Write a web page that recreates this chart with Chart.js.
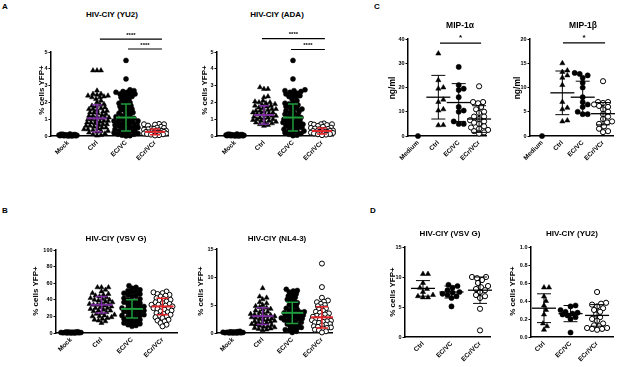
<!DOCTYPE html>
<html>
<head>
<meta charset="utf-8">
<script src="https://cdn.jsdelivr.net/npm/chart.js@4.4.1/dist/chart.umd.min.js"></script>
<style>
  html, body { margin:0; padding:0; background:#fff; width:617px; height:367px; overflow:hidden; position:relative; }
  .box { position:absolute; }
  .txt { position:absolute; font-family:"Liberation Sans", Arial, sans-serif; font-weight:bold; color:#000; white-space:nowrap; }
</style>
</head>
<body>
<script>
// ── Data ─────────────────────────────────────────────────────
const catsAB = ['Mock', 'Ctrl', 'EC/VC', 'ECr/VCr'];
const catsC  = ['Medium', 'Ctrl', 'EC/VC', 'ECr/VCr'];
const catsD  = ['Ctrl', 'EC/VC', 'ECr/VCr'];

const ticksA  = [0, 1, 2, 3, 4, 5];
const ticksB1 = [0, 20, 40, 60, 80, 100];
const ticksB2 = [0, 5, 10, 15];
const ticksC1 = [0, 10, 20, 30, 40];
const ticksC2 = [0, 5, 10, 15, 20];
const ticksD1 = [0, 5, 10, 15];
const ticksD2 = [0, 0.2, 0.4, 0.6, 0.8, 1.0];

// A — HIV-CIY (YU2)
const yu2Mock   = [0,0,0.01,0.01,0.02,0.02,0.03,0.03,0.04,0.04,0.05,0.05,0.06,0.06,0.07,0.08,0.09,0.1,0.11,0.12];
const yu2Ctrl   = [3.9,3.9,3.9,2.7,2.5,2.5,2.45,2.4,2.4,2.35,2.3,2.3,2.2,2.1,2.0,1.9,1.85,1.8,1.75,1.7,1.65,1.6,1.6,1.55,1.5,1.45,1.4,1.4,1.35,1.3,1.25,1.2,1.2,1.15,1.1,1.1,1.05,1.0,1.0,0.95,0.9,0.9,0.85,0.8,0.8,0.75,0.7,0.7,0.65,0.6,0.6,0.55,0.5,0.5,0.45,0.4,0.4,0.35,0.3,0.3,0.25,0.2,0.15,0.1,0.05,0.02];
const yu2EcVc   = [4.5,3.4,2.75,2.7,2.65,2.6,2.6,2.55,2.5,2.5,2.45,2.4,2.35,2.3,2.25,2.2,2.1,2.05,2.0,1.95,1.9,1.85,1.8,1.75,1.7,1.65,1.6,1.55,1.5,1.45,1.4,1.35,1.3,1.25,1.2,1.15,1.1,1.05,1.0,1.0,0.95,0.9,0.9,0.85,0.8,0.8,0.75,0.7,0.7,0.65,0.6,0.6,0.55,0.5,0.5,0.45,0.4,0.4,0.35,0.3,0.3,0.25,0.2,0.2,0.15,0.1,0.1,0.05,0.02,0];
const yu2EcrVcr = [0.72,0.7,0.7,0.68,0.62,0.55,0.5,0.48,0.45,0.42,0.4,0.38,0.35,0.32,0.3,0.3,0.28,0.25,0.25,0.22,0.2,0.2,0.18,0.15,0.15,0.12,0.1,0.08,0.05,0.03];
const yu2Mean = [null, 1.05, 1.1, 0.25];
const yu2Sd   = [null, 0.8, 0.8, 0.17];
const yu2Sig  = [[1.1, 3.24, 5.77, '****'], [2.07, 3.24, 5.18, '****']];

// A — HIV-CIY (ADA)
const adaMock   = [0,0,0.01,0.01,0.02,0.02,0.03,0.03,0.04,0.04,0.05,0.05,0.06,0.06,0.07,0.08,0.09,0.1,0.11,0.12];
const adaCtrl   = [2.9,2.8,2.8,2.35,2.3,2.1,2.05,2.0,2.0,1.95,1.9,1.85,1.8,1.8,1.75,1.7,1.65,1.6,1.6,1.55,1.5,1.5,1.45,1.4,1.4,1.35,1.3,1.3,1.25,1.2,1.2,1.15,1.1,1.1,1.05,1.0,1.0,0.95,0.9,0.9,0.85,0.8,0.8,0.75,0.7,0.65,0.6];
const adaEcVc   = [4.5,3.4,2.75,2.7,2.7,2.65,2.6,2.55,2.5,2.45,2.4,2.35,2.3,2.2,2.1,2.0,1.95,1.9,1.85,1.8,1.75,1.7,1.65,1.6,1.55,1.5,1.45,1.4,1.35,1.3,1.25,1.2,1.15,1.1,1.05,1.0,1.0,0.95,0.9,0.85,0.8,0.8,0.75,0.7,0.7,0.65,0.6,0.55,0.5,0.5,0.45,0.4,0.35,0.3,0.3,0.25,0.2,0.15,0.1,0.05,0.02];
const adaEcrVcr = [0.75,0.72,0.7,0.7,0.68,0.65,0.6,0.55,0.5,0.48,0.45,0.42,0.4,0.38,0.35,0.33,0.3,0.3,0.28,0.25,0.25,0.22,0.2,0.18,0.15,0.12,0.1,0.08,0.05];
const adaMean = [null, 1.25, 1.1, 0.3];
const adaSd   = [null, 0.55, 0.8, 0.18];
const adaSig  = [[0.93, 3.1, 5.8, '****'], [1.93, 3.1, 5.15, '****']];

// B — HIV-CIY (VSV G)
const vsvMock   = [0,0,0.1,0.2,0.2,0.3,0.4,0.5,0.5,0.6,0.7,0.8,0.9,1.0,1.1,1.2,1.3,1.5];
const vsvCtrl   = [55,55,55,52,50,48,47,46,45,44,43,42,41,40,40,39,38,37,36,35,35,34,34,33,32,31,30,30,29,28,27,27,26,25,24,23,22,21,20,20,19,18,17,16,15,14,12];
const vsvEcVc   = [57,55,54,52,51,50,49,48,47,46,45,44,42,41,40,39,38,37,36,35,34,33,32,31,30,30,29,28,27,26,26,25,24,23,22,21,21,20,19,18,17,16,15,14,13,12,11,10,9,8];
const vsvEcrVcr = [50,49,48,47,46,45,44,42,41,40,39,38,37,36,35,34,34,33,32,31,30,30,29,28,27,26,25,24,23,22,21,20,19,18,16,15,14,12,10,8];
const vsvMean = [null, 34, 29, 32];
const vsvSd   = [null, 10, 11, 10];

// B — HIV-CIY (NL4-3)
const nl43Mock   = [0,0,0.02,0.03,0.04,0.05,0.06,0.08,0.1,0.12,0.14,0.16,0.18,0.2,0.22,0.25,0.3];
const nl43Ctrl   = [8.0,6.5,6.3,6.0,5.5,5.3,5.0,4.8,4.6,4.5,4.3,4.2,4.0,3.8,3.7,3.5,3.4,3.3,3.2,3.1,3.0,3.0,2.9,2.8,2.7,2.6,2.5,2.4,2.3,2.2,2.1,2.0,1.9,1.8,1.7,1.6,1.5,1.4,1.3,1.2,1.1,1.0,0.9,0.8,0.7,0.6,0.5];
const nl43EcVc   = [7.8,7.6,7.5,7.3,7.0,6.8,6.6,6.4,6.2,6.0,5.8,5.6,5.4,5.2,5.0,4.8,4.6,4.4,4.2,4.0,3.9,3.8,3.7,3.6,3.5,3.4,3.3,3.2,3.1,3.0,2.9,2.8,2.7,2.6,2.5,2.4,2.3,2.2,2.0,1.9,1.8,1.6,1.5,1.4,1.2,1.0,0.9,0.8,0.6,0.5,0.3,0.1];
const nl43EcrVcr = [12.4,8.2,6.3,5.8,5.6,5.5,5.2,5.0,4.8,4.6,4.4,4.2,4.0,3.8,3.6,3.5,3.3,3.1,3.0,2.9,2.8,2.6,2.5,2.4,2.3,2.2,2.1,2.0,1.9,1.8,1.6,1.5,1.4,1.2,1.1,1.0,0.9,0.8,0.6,0.5,0.3,0.1];
const nl43Mean = [null, 3.0, 3.6, 2.8];
const nl43Sd   = [null, 1.5, 1.9, 1.9];

// C — MIP-1α / MIP-1β (ng/ml)
const mipaMedium = [0];
const mipaCtrl   = [34, 23, 20, 19.5, 15, 14, 11, 10.5, 4.5, 4.4];
const mipaEcVc   = [28.5, 21, 19.5, 19, 16, 12, 10.5, 10, 6, 5, 5];
const mipaEcrVcr = [20.5, 14, 14, 13.5, 12, 11, 10, 9.5, 8, 8, 7, 6.5, 6, 5.5, 5, 4, 3.5, 3, 2.5, 2, 1.5, 1];
const mipaMean = [null, 16, 13.8, 7];
const mipaSd   = [null, 9, 7.8, 5.5];
const mipaSig  = [[1.08, 3.1, 38.3, '*']];

const mipbMedium = [0];
const mipbCtrl   = [15, 13.5, 13.2, 12.5, 12, 10.5, 7, 5.8, 5.5, 3, 3.2];
const mipbEcVc   = [13, 12.8, 12.5, 12, 11, 10, 8, 7, 6.5, 6, 5, 4.5, 4.5];
const mipbEcrVcr = [11.3, 7, 7, 6.8, 6.5, 6.2, 6, 5.5, 5, 4.5, 4, 3.5, 3, 2.8, 2.5, 2, 1.5, 1, 0.8];
const mipbMean = [null, 8.9, 8, 4.6];
const mipbSd   = [null, 4.5, 3.3, 2.3];
const mipbSig  = [[1.03, 3.1, 19.2, '*']];

// D — HIV-CIY (VSV G) / (YU2)
const dVsvCtrl   = [10.5, 10.5, 9, 8.2, 8, 7.5, 7, 6.8, 6.6, 6.6];
const dVsvEcVc   = [8.7, 8.5, 8.2, 7.8, 7.5, 7.4, 7.2, 7, 6.8, 6.5, 5.1];
const dVsvEcrVcr = [10, 10, 9.8, 9.5, 9, 8.5, 8.3, 8, 7.8, 7.5, 7, 6.8, 6.5, 4.7, 1.1];
const dVsvMean = [8.1, 7.5, 7.8];
const dVsvSd   = [1.3, 1.0, 2.2];

const dYu2Ctrl   = [0.55, 0.55, 0.45, 0.40, 0.35, 0.30, 0.25, 0.15, 0.12, 0.08];
const dYu2EcVc   = [0.35, 0.34, 0.30, 0.28, 0.27, 0.26, 0.25, 0.24, 0.22, 0.20, 0.05];
const dYu2EcrVcr = [0.5, 0.38, 0.37, 0.36, 0.34, 0.32, 0.3, 0.28, 0.25, 0.22, 0.2, 0.18, 0.15, 0.13, 0.12, 0.1, 0.1, 0.09, 0.08, 0.09];
const dYu2Mean = [0.32, 0.26, 0.24];
const dYu2Sd   = [0.16, 0.09, 0.12];

// ── Styles ───────────────────────────────────────────────────
const FONT = '"Liberation Sans", Arial, sans-serif';
const WY = 18, PT = 26, PR = 8, HX = 36;
const COL = { purple:'#7b2d9e', green:'#1f9a3c', red:'#e3242b', black:'#000' };
const colAB = [null, COL.purple, COL.green, COL.red];
const colCD = [COL.black, COL.black, COL.black, COL.black];

const panels = [
  { cats:catsAB, groups:[yu2Mock, yu2Ctrl, yu2EcVc, yu2EcrVcr], mean:yu2Mean, sd:yu2Sd, sig:yu2Sig, ticks:ticksA,
    marks:['dot','tri','dot','ring'], colors:colAB, box:{l:51, r:168, t:52, b:136}, xr:[-0.586, 3.448],
    r:2.5, half:[9, 13, 14, 11], pack:0.7, meanW:10, capW:5, lw:2 },
  { cats:catsAB, groups:[adaMock, adaCtrl, adaEcVc, adaEcrVcr], mean:adaMean, sd:adaSd, sig:adaSig, ticks:ticksA,
    marks:['dot','tri','dot','ring'], colors:colAB, box:{l:217, r:333, t:52, b:136}, xr:[-0.62, 3.38],
    r:2.5, half:[9, 12, 14, 11], pack:0.7, meanW:10, capW:5, lw:2 },
  { cats:catsAB, groups:[vsvMock, vsvCtrl, vsvEcVc, vsvEcrVcr], mean:vsvMean, sd:vsvSd, sig:[], ticks:ticksB1,
    marks:['dot','tri','dot','ring'], colors:colAB, box:{l:56, r:177, t:250, b:333}, xr:[-0.49, 3.475],
    r:2.5, half:[10, 13, 14, 13], pack:0.7, meanW:11, capW:6, lw:2 },
  { cats:catsAB, groups:[nl43Mock, nl43Ctrl, nl43EcVc, nl43EcrVcr], mean:nl43Mean, sd:nl43Sd, sig:[], ticks:ticksB2,
    marks:['dot','tri','dot','ring'], colors:colAB, box:{l:217, r:332, t:249, b:333}, xr:[-0.54, 3.34],
    r:2.5, half:[10, 13, 14, 13], pack:0.7, meanW:11, capW:6, lw:2 },
  { cats:catsC, groups:[mipaMedium, mipaCtrl, mipaEcVc, mipaEcrVcr], mean:mipaMean, sd:mipaSd, sig:mipaSig, ticks:ticksC1,
    marks:['dot','tri','dot','ring'], colors:colCD, box:{l:408, r:486, t:39, b:136}, xr:[-0.49, 3.34],
    r:2.6, half:[9, 9, 9, 9], pack:0.9, meanW:12, capW:7, lw:1.3 },
  { cats:catsC, groups:[mipbMedium, mipbCtrl, mipbEcVc, mipbEcrVcr], mean:mipbMean, sd:mipbSd, sig:mipbSig, ticks:ticksC2,
    marks:['dot','tri','dot','ring'], colors:colCD, box:{l:530, r:613, t:39, b:136}, xr:[-0.59, 3.49],
    r:2.6, half:[9, 9, 9, 9], pack:0.9, meanW:12, capW:7, lw:1.3 },
  { cats:catsD, groups:[dVsvCtrl, dVsvEcVc, dVsvEcrVcr], mean:dVsvMean, sd:dVsvSd, sig:[], ticks:ticksD1,
    marks:['tri','dot','ring'], colors:colCD, box:{l:405, r:490, t:247, b:337}, xr:[-0.63, 2.35],
    r:2.6, half:[10, 10, 10], pack:0.9, meanW:12, capW:7, lw:1.3 },
  { cats:catsD, groups:[dYu2Ctrl, dYu2EcVc, dYu2EcrVcr], mean:dYu2Mean, sd:dYu2Sd, sig:[], ticks:ticksD2, fmt:v => v.toFixed(1),
    marks:['tri','dot','ring'], colors:colCD, box:{l:531, r:613, t:247, b:337}, xr:[-0.49, 2.6],
    r:2.6, half:[10, 10, 10], pack:0.9, meanW:12, capW:7, lw:1.3 },
];

const texts = [
  ['A', 2, 6, 8, 0], ['B', 2, 210, 8, 0], ['C', 374, 6, 8, 0], ['D', 370, 210, 8, 0],
  ['HIV-CIY (YU2)', 112, 14, 8, 0], ['HIV-CIY (ADA)', 277, 14, 8, 0],
  ['MIP-1α', 460, 25, 8.5, 0], ['MIP-1β', 583, 25, 8.5, 0],
  ['HIV-CIY (VSV G)', 116, 238, 8, 0], ['HIV-CIY (NL4-3)', 277, 238, 8, 0],
  ['HIV-CIY (VSV G)', 450, 233, 8, 0], ['HIV-CIY (YU2)', 572, 233, 8, 0],
  ['% cells YFP+', 41, 90, 8, -90], ['% cells YFP+', 204, 90, 8, -90],
  ['% cells YFP+', 35, 291, 8, -90], ['% cells YFP+', 200, 291, 8, -90],
  ['% cells YFP+', 392, 292, 8, -90], ['% cells YFP+', 512, 291, 8, -90],
  ['ng/ml', 392, 88, 8.5, -90], ['ng/ml', 517, 88, 8.5, -90],
];

// ── Helpers ──────────────────────────────────────────────────

function addText([s, x, y, size, rot]) {
  const el = document.createElement('div');
  el.className = 'txt';
  el.textContent = s;
  el.style.fontSize = size + 'px';
  el.style.left = x + 'px';
  el.style.top = y + 'px';
  el.style.transform = s.length === 1 ? 'translate(0,-50%)' : `translate(-50%,-50%) rotate(${rot}deg)`;
  document.body.appendChild(el);
}

function markStyle(m, r) {
  if (m === 'tri')  return { pointStyle:'triangle', pointRadius:r + 0.4, backgroundColor:'#000', borderColor:'#000', borderWidth:0.5 };
  if (m === 'ring') return { pointStyle:'circle', pointRadius:r, backgroundColor:'#fff', borderColor:'#000', borderWidth:1 };
  return { pointStyle:'circle', pointRadius:r, backgroundColor:'#000', borderColor:'#000', borderWidth:0.5 };
}

// spread points of a column sideways so they don't sit on each other
function swarm(chart, p) {
  const xs = chart.scales.x, ys = chart.scales.y;
  const unit = xs.getPixelForValue(1) - xs.getPixelForValue(0);
  const need = 2 * p.r * p.pack;
  chart.data.datasets.forEach(ds => {
    const half = p.half[ds.cat];
    const vals = ds.data.map(d => d.y);
    const order = vals.map((_, i) => i).sort((a, b) => vals[a] - vals[b]);
    const placed = [];
    order.forEach(i => {
      const py = ys.getPixelForValue(vals[i]);
      let best = 0, bestD = -1;
      for (let k = 0; ; k++) {
        const dx = (k % 2 ? 1 : -1) * Math.ceil(k / 2);
        if (Math.abs(dx) > half) break;
        let m = Infinity;
        placed.forEach(q => { const d = Math.hypot(q[0] - dx, q[1] - py); if (d < m) m = d; });
        if (m >= need) { best = dx; break; }
        if (m > bestD) { bestD = m; best = dx; }
      }
      placed.push([best, py]);
      ds.data[i].x = ds.cat + best / unit;
    });
  });
  chart.update('none');
}

function statsPlugin(p) {
  return {
    id: 'stats',
    afterDatasetsDraw(chart) {
      const { ctx, scales: { x, y } } = chart;
      ctx.save();
      p.mean.forEach((m, i) => {
        if (m == null) return;
        const cx = x.getPixelForValue(i);
        const lo = Math.max(m - p.sd[i], p.ticks[0]);
        const py = y.getPixelForValue(m), pt = y.getPixelForValue(m + p.sd[i]), pb = y.getPixelForValue(lo);
        ctx.strokeStyle = p.colors[i];
        ctx.lineWidth = p.lw;
        ctx.beginPath();
        ctx.moveTo(cx - p.meanW, py); ctx.lineTo(cx + p.meanW, py);
        ctx.stroke();
        ctx.lineWidth = p.lw * 0.75;
        ctx.beginPath();
        ctx.moveTo(cx, pt); ctx.lineTo(cx, pb);
        ctx.moveTo(cx - p.capW, pt); ctx.lineTo(cx + p.capW, pt);
        ctx.moveTo(cx - p.capW, pb); ctx.lineTo(cx + p.capW, pb);
        ctx.stroke();
      });
      // significance bars
      p.sig.forEach(([a, b, v, lab]) => {
        const x0 = x.getPixelForValue(a), x1 = x.getPixelForValue(b), py = y.getPixelForValue(v);
        ctx.strokeStyle = '#000';
        ctx.lineWidth = 1.2;
        ctx.beginPath(); ctx.moveTo(x0, py); ctx.lineTo(x1, py); ctx.stroke();
        ctx.fillStyle = '#000';
        ctx.font = `bold ${lab.length > 1 ? 6 : 8}px ${FONT}`;
        ctx.textAlign = 'center';
        ctx.textBaseline = 'bottom';
        ctx.fillText(lab, (x0 + x1) / 2, py - 1);
      });
      ctx.restore();
    }
  };
}

function addPanel(p) {
  const w = p.box.r - p.box.l + WY + PR, h = p.box.b - p.box.t + PT + HX;
  const div = document.createElement('div');
  div.className = 'box';
  div.style.left = (p.box.l - WY) + 'px';
  div.style.top  = (p.box.t - PT) + 'px';
  const cv = document.createElement('canvas');
  cv.width = w; cv.height = h;
  cv.style.width = w + 'px'; cv.style.height = h + 'px';
  div.appendChild(cv);
  document.body.appendChild(div);

  const datasets = p.groups.map((vals, i) => ({
    data: vals.map(v => ({ x: i, y: v })),
    cat: i, clip: false,
    ...markStyle(p.marks[i], p.r),
  }));
  const fmt = p.fmt || (v => String(v));

  const chart = new Chart(cv.getContext('2d'), {
    type: 'scatter',
    data: { datasets },
    options: {
      responsive: false, animation: false, events: [],
      layout: { padding: { left:0, top:PT, right:PR, bottom:0 } },
      plugins: { legend:{ display:false }, tooltip:{ enabled:false } },
      scales: {
        x: {
          type:'linear', min:p.xr[0], max:p.xr[1],
          afterFit: s => { s.height = HX; },
          afterBuildTicks: s => { s.ticks = p.cats.map((_, i) => ({ value:i })); },
          grid: { display:false, drawTicks:false },
          border: { color:'#000', width:1.5 },
          ticks: { autoSkip:false, minRotation:45, maxRotation:45, padding:3, color:'#000',
                   font:{ size:6.5, weight:'bold', family:FONT }, callback: v => p.cats[v] ?? '' },
        },
        y: {
          min:p.ticks[0], max:p.ticks[p.ticks.length - 1],
          afterFit: s => { s.width = WY; },
          afterBuildTicks: s => { s.ticks = p.ticks.map(v => ({ value:v })); },
          grid: { drawOnChartArea:false, drawTicks:true, tickLength:2.5, color:'#000', lineWidth:1 },
          border: { color:'#000', width:1.5 },
          ticks: { padding:1, color:'#000', font:{ size:5.5, weight:'bold', family:FONT }, callback: v => fmt(v) },
        },
      },
    },
    plugins: [statsPlugin(p)],
  });
  swarm(chart, p);
}

panels.forEach(addPanel);
texts.forEach(addText);
</script>
</body>
</html>
